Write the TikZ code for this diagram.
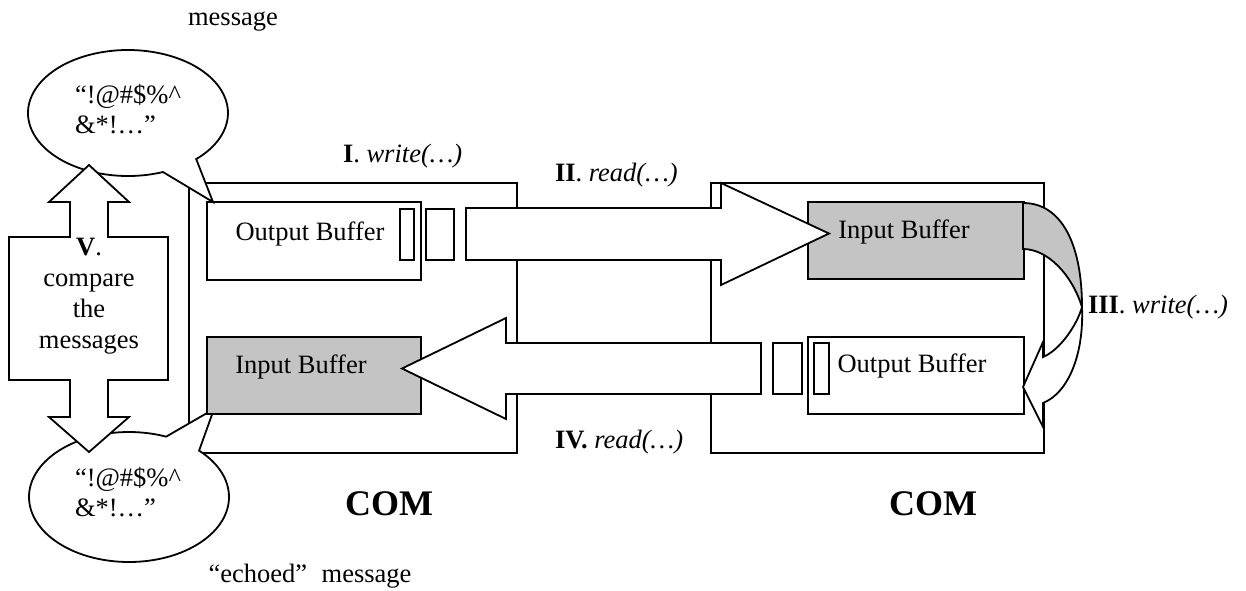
\documentclass[tikz,border=0pt]{standalone}
\usepackage{fontspec}
\setmainfont{Liberation Serif}
\definecolor{bufgray}{gray}{0.77}
\begin{document}
\begin{tikzpicture}[x=1pt,y=-1pt,
  every node/.style={inner sep=0pt, outer sep=0pt},
  txt/.style={font=\fontsize{26.5}{30}\selectfont},
  comlbl/.style={font=\bfseries\fontsize{36}{40}\selectfont, anchor=base},
  box/.style={draw, line width=1.8pt, anchor=north west},
  shaded/.style={fill=bufgray},
  outline/.style={draw, line width=1.8pt, line join=miter},
  blockarrow/.style={outline, fill=white},
  bubble/.style={outline, fill=white}]
\useasboundingbox (0,0) rectangle (1246,590);

% the two COM ports
\node[box, minimum width=328pt, minimum height=270pt] (lcom) at (189,183) {};
\node[box, minimum width=333pt, minimum height=270pt] (rcom) at (711,183) {};

% speech bubbles holding the sent and the echoed message
\path[bubble] (128,113) ++({100*cos(69.5)},{63*sin(69.5)})
  arc[start angle=69.5, end angle=407, x radius=100, y radius=63]
  -- (213,202) coordinate (toptip) -- cycle;
\path[bubble] (129,497) ++({100*cos(314.5)},{65*sin(314.5)})
  arc[start angle=314.5, end angle=651.8, x radius=100, y radius=65]
  -- (214,409) coordinate (bottip) -- cycle;

% buffers
\node[box, minimum width=214pt, minimum height=78pt] (lout) at (207,202) {};
\node[box, shaded, minimum width=214pt, minimum height=77pt] (lin) at (207,337) {};
\node[box, shaded, minimum width=216pt, minimum height=77pt] (rin) at (808,202) {};
\node[box, minimum width=216pt, minimum height=77pt] (rout) at (808,337) {};

% bytes leaving the output buffers
\node[box, minimum width=14pt, minimum height=51pt] (lslota) at (400,209) {};
\node[box, minimum width=28pt, minimum height=51pt] (lslotb) at (426,209) {};
\node[box, minimum width=29pt, minimum height=51pt] (rslota) at (773,343) {};
\node[box, minimum width=15pt, minimum height=51pt] (rslotb) at (814,343) {};

% II: data travels to the far input buffer
\path[blockarrow] (466,208) -- (721,208) -- (721,183) -- (829,233.5)
  -- (721,285) -- (721,260) -- (466,260) -- cycle;
% IV: data travels back to the near input buffer
\path[blockarrow] (761,343) -- (506,343) -- (506,318) -- (402,368.5)
  -- (506,419) -- (506,394) -- (761,394) -- cycle;

% III: curved arrow from input buffer to output buffer
\path[outline, fill=bufgray] (1023,203) .. controls (1062,203) and (1082,245) .. (1082,307)
  .. controls (1072,275) and (1048,249) .. (1023,249) -- cycle;
\path[blockarrow] (1082,307) .. controls (1077,325) and (1060,350) .. (1043,357)
  -- (1043,342) -- (1023,387) -- (1043,427) -- (1043,403)
  .. controls (1068,393) and (1084,355) .. (1082,307) -- cycle;

% V: double arrow between the two messages
\path[blockarrow] (89,165) -- (129,202) -- (108,202) -- (108,237) -- (168,237)
  -- (168,380) -- (108,380) -- (108,417) -- (129,417) -- (89,452) -- (49,417)
  -- (70,417) -- (70,380) -- (9,380) -- (9,237) -- (70,237) -- (70,202)
  -- (49,202) -- cycle;

% texts
\node[txt, anchor=base] (msgtop) at (233,25) {message};
\node[txt, anchor=base] (msgecho) at (310,582) {“echoed”\hspace{0.55em}message};
\node[txt, align=left] (qtop) at (128,109) {“!@\#\$\%\textasciicircum\\\&*!…”};
\node[txt, align=left] (qbot) at (128,492) {“!@\#\$\%\textasciicircum\\\&*!…”};
\node[txt, font=\fontsize{26.5}{31}\selectfont, align=center] (cmp) at (89,296)
  {\textbf{V}.\\compare\\the\\messages};

\node[txt, anchor=base] (loutlbl) at (310,240) {Output Buffer};
\node[txt, anchor=base] (linlbl) at (301,373) {Input Buffer};
\node[txt, anchor=base] (rinlbl) at (904,238) {Input Buffer};
\node[txt, anchor=base] (routlbl) at (912,372) {Output Buffer};

\node[txt, anchor=base west] (step1) at (343,162) {\textbf{I}. \textit{write(…)}};
\node[txt, anchor=base west] (step2) at (555,181) {\textbf{II}. \textit{read(…)}};
\node[txt, anchor=base west] (step3) at (1088,313) {\textbf{III}. \textit{write(…)}};
\node[txt, anchor=base west] (step4) at (555,448) {\textbf{IV.} \textit{read(…)}};

\node[comlbl] (lcomlbl) at (389,515) {COM};
\node[comlbl] (rcomlbl) at (933,515) {COM};
\end{tikzpicture}
\end{document}
